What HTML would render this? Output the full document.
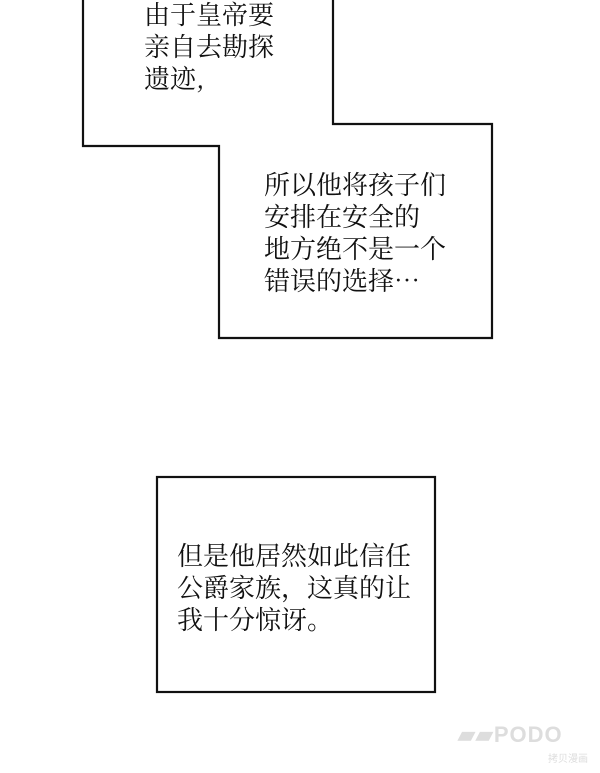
<!DOCTYPE html>
<html><head><meta charset="utf-8"><style>
html,body{margin:0;padding:0;background:#fff;}
body{width:600px;height:773px;position:relative;overflow:hidden;}
.t{position:absolute;font-family:"Noto Serif CJK SC","Liberation Serif",serif;font-size:26px;line-height:32px;color:#111;white-space:nowrap;letter-spacing:0px;}
.w{position:absolute;font-family:"Liberation Sans",sans-serif;color:#ddd;}
</style></head><body>
<svg width="600" height="773" style="position:absolute;left:0;top:0">
<polygon points="83,-5 83,146 219,146 219,338 492,338 492,124 333,124 333,-5" fill="none" stroke="#111" stroke-width="2.2"/>
<rect x="157" y="477" width="278" height="215" fill="none" stroke="#111" stroke-width="2.2"/>
</svg>
<div class="t" style="left:144px;top:-2px;">由于皇帝要<br>亲自去勘探<br>遗迹,</div>
<div class="t" style="left:264px;top:168px;">所以他将孩子们<br>安排在安全的<br>地方绝不是一个<br>错误的选择…</div>
<div class="t" style="left:177px;top:539px;">但是他居然如此信任<br>公爵家族，这真的让<br>我十分惊讶。</div>
<div class="w" style="left:458px;top:722px;font-size:22px;font-weight:bold;letter-spacing:1px;">▰▰PODO</div>
<div class="w" style="left:548px;top:750px;font-size:10px;font-family:'Noto Sans CJK SC',sans-serif;">拷贝漫画</div>
</body></html>
